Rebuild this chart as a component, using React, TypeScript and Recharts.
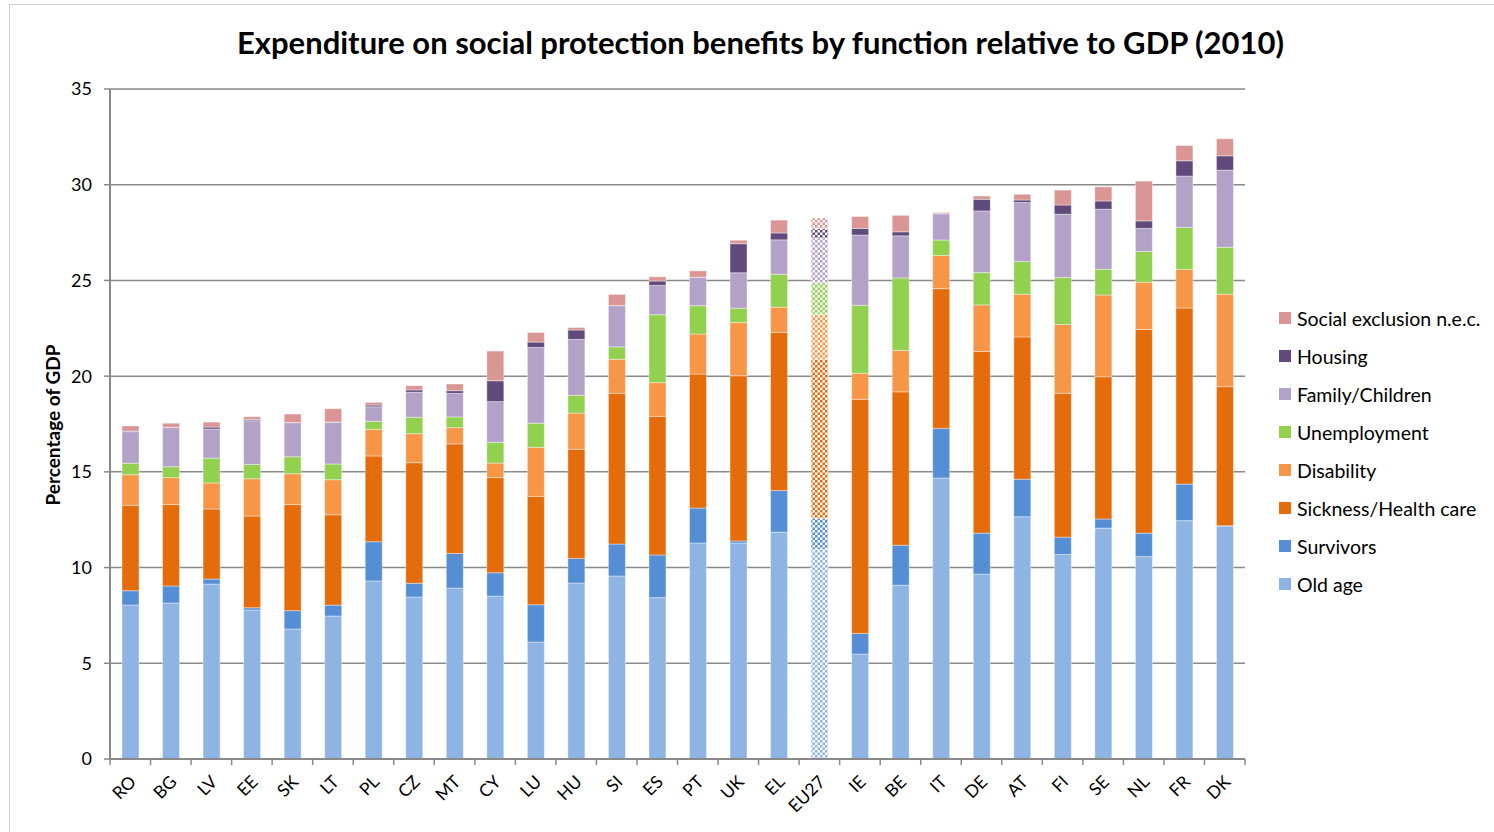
import React from 'react';
import { BarChart, Bar, XAxis, YAxis, CartesianGrid, Cell } from 'recharts';

const categories = ['RO','BG','LV','EE','SK','LT','PL','CZ','MT','CY','LU','HU','SI','ES','PT','UK','EL','EU27','IE','BE','IT','DE','AT','FI','SE','NL','FR','DK'];

const oldAge =        [8.04,8.15,9.14,7.78,6.79,7.47,9.30,8.46,8.93,8.51,6.11,9.19,9.56,8.43,11.28,11.28,11.85,10.95,5.48,9.08,14.68,9.66,12.65,10.68,12.06,10.57,12.45,12.17];
const survivors =     [0.75,0.89,0.26,0.12,0.96,0.57,2.05,0.72,1.81,1.22,1.95,1.29,1.67,2.23,1.83,0.11,2.18,1.63,1.08,2.09,2.59,2.14,1.97,0.91,0.48,1.23,1.91,0.02];
const sickness =      [4.46,4.25,3.66,4.79,5.54,4.72,4.48,6.30,5.72,4.97,5.66,5.70,7.87,7.24,7.00,8.63,8.25,8.30,12.23,8.01,7.30,9.49,7.43,7.51,7.43,10.64,9.20,7.26];
const disability =    [1.60,1.41,1.36,1.95,1.61,1.83,1.39,1.51,0.85,0.76,2.56,1.89,1.78,1.76,2.09,2.78,1.32,2.34,1.36,2.16,1.73,2.43,2.23,3.60,4.27,2.47,2.02,4.83];
const unemployment =  [0.60,0.57,1.30,0.75,0.89,0.82,0.42,0.86,0.56,1.08,1.26,0.93,0.65,3.55,1.48,0.75,1.72,1.66,3.55,3.79,0.81,1.69,1.71,2.45,1.34,1.60,2.19,2.45];
const family =        [1.65,2.04,1.52,2.28,1.78,2.18,0.76,1.31,1.23,2.13,3.96,2.92,2.15,1.53,1.48,1.85,1.80,2.32,3.67,2.20,1.37,3.22,3.08,3.31,3.14,1.21,2.68,4.03];
const housing =       [0.03,0.02,0.10,0.06,0.01,0.01,0.09,0.12,0.14,1.09,0.28,0.49,0.01,0.23,0.01,1.52,0.36,0.50,0.35,0.21,0.02,0.61,0.13,0.48,0.43,0.39,0.80,0.75];
const socialExcl =    [0.27,0.21,0.26,0.15,0.44,0.70,0.14,0.22,0.35,1.55,0.50,0.13,0.58,0.22,0.33,0.18,0.67,0.56,0.62,0.86,0.05,0.17,0.30,0.78,0.74,2.08,0.80,0.89];

const yTicks = [0, 5, 10, 15, 20, 25, 30, 35];

const seriesDefs = [
  { key: 'oldAge', name: 'Old age', color: '#8EB4E3', values: oldAge },
  { key: 'survivors', name: 'Survivors', color: '#558ED5', values: survivors },
  { key: 'sickness', name: 'Sickness/Health care', color: '#E46C0A', values: sickness },
  { key: 'disability', name: 'Disability', color: '#F79646', values: disability },
  { key: 'unemployment', name: 'Unemployment', color: '#92D050', values: unemployment },
  { key: 'family', name: 'Family/Children', color: '#B3A2C7', values: family },
  { key: 'housing', name: 'Housing', color: '#604A7B', values: housing },
  { key: 'socialExcl', name: 'Social exclusion n.e.c.', color: '#D99694', values: socialExcl },
];

const data = categories.map((c, i) => {
  const row: Record<string, any> = { name: c };
  seriesDefs.forEach((s) => { row[s.key] = s.values[i]; });
  return row;
});

const W = 1494;
const H = 832;
const MARGIN = { top: 89, right: 249, bottom: 13, left: 50 };
const YAXIS_W = 60;
const XAXIS_H = 60;
const PLOT_W = W - MARGIN.left - MARGIN.right - YAXIS_W;
const STEP = PLOT_W / categories.length;
const FONT = 'Lato, "Open Sans", sans-serif';
const GRAY = '#898989';

function XTick(props: any) {
  const { x, y, payload, index } = props;
  const axisY = y - 8;
  return (
    <g>
      <line x1={x - STEP / 2} x2={x - STEP / 2} y1={axisY} y2={axisY + 6} stroke={GRAY} strokeWidth={1.5} />
      {index === categories.length - 1 && (
        <line x1={x + STEP / 2} x2={x + STEP / 2} y1={axisY} y2={axisY + 6} stroke={GRAY} strokeWidth={1.5} />
      )}
      <text
        transform={`translate(${x + 7},${axisY + 24}) rotate(-45)`}
        textAnchor="end"
        fontSize={17.5}
        fontFamily={FONT}
        fill="#000"
      >
        {payload.value}
      </text>
    </g>
  );
}

export default function App() {
  const legendItems = [...seriesDefs].reverse();
  return (
    <div style={{ position: 'absolute', left: 0, top: 0, width: W, height: H, background: '#fff', overflow: 'hidden', fontFamily: FONT }}>
      <div style={{ position: 'absolute', left: 9, top: 4, width: W, height: H, borderTop: '1px solid #d0d0d0', borderLeft: '1px solid #d0d0d0' }} />
      <div style={{ position: 'absolute', left: 30, width: 1461, top: 23, textAlign: 'center', fontWeight: 700, fontSize: 31, whiteSpace: 'nowrap', color: '#000', lineHeight: '38px' }}>
        Expenditure on social protection benefits by function relative to GDP (2010)
      </div>
      <div style={{ position: 'absolute', left: 52, top: 425, transform: 'translate(-50%, -50%) rotate(-90deg)', fontWeight: 700, fontSize: 19, whiteSpace: 'nowrap', color: '#000' }}>
        Percentage of GDP
      </div>
      <BarChart width={W} height={H} data={data} margin={MARGIN} barSize={17}>
        <defs>
          {seriesDefs.map((s) => (
            <pattern key={s.key} id={`chk-${s.key}`} width={5} height={5} patternUnits="userSpaceOnUse">
              <rect x={0} y={0} width={5} height={5} fill="#ffffff" />
              <rect x={0} y={0} width={2.5} height={2.5} fill={s.color} />
              <rect x={2.5} y={2.5} width={2.5} height={2.5} fill={s.color} />
            </pattern>
          ))}
        </defs>
        <CartesianGrid vertical={false} stroke={GRAY} strokeWidth={1.5} />
        <XAxis
          dataKey="name"
          height={XAXIS_H}
          interval={0}
          tickLine={false}
          axisLine={{ stroke: GRAY, strokeWidth: 2 }}
          tick={<XTick />}
        />
        <YAxis
          width={YAXIS_W}
          domain={[0, 35]}
          ticks={yTicks}
          interval={0}
          tickSize={6}
          tickMargin={12}
          tickLine={{ stroke: GRAY, strokeWidth: 1.5 }}
          axisLine={{ stroke: GRAY, strokeWidth: 2 }}
          tick={{ fontSize: 18, fill: '#000', fontFamily: FONT }}
        />
        {seriesDefs.map((s) => (
          <Bar key={s.key} dataKey={s.key} name={s.name} stackId="a" fill={s.color} isAnimationActive={false} stroke="#ffffff" strokeWidth={0.4}>
            {data.map((d, i) => (
              <Cell key={i} fill={d.name === 'EU27' ? `url(#chk-${s.key})` : s.color} />
            ))}
          </Bar>
        ))}
      </BarChart>
      {legendItems.map((s, i) => (
        <div key={s.key} style={{ position: 'absolute', left: 1279, top: 318 + i * 38 - 12, height: 24, display: 'flex', alignItems: 'center', whiteSpace: 'nowrap' }}>
          <div style={{ width: 12, height: 12, background: s.color, marginRight: 6 }} />
          <span style={{ fontSize: 19.5, color: '#000' }}>{s.name}</span>
        </div>
      ))}
    </div>
  );
}
